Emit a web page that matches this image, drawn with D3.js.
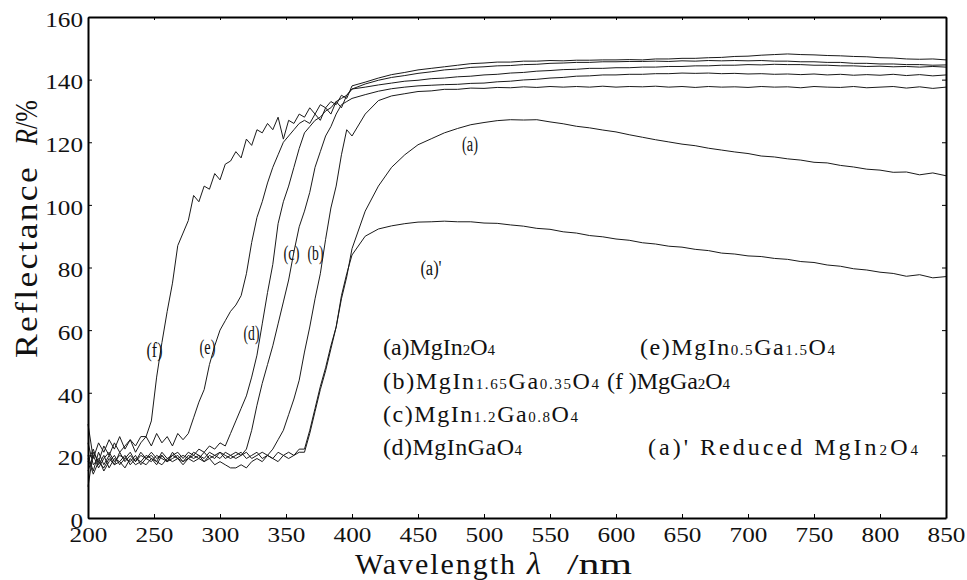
<!DOCTYPE html>
<html><head><meta charset="utf-8">
<script src="https://cdn.jsdelivr.net/npm/d3@7"></script>
<style>
body{margin:0;background:#fff}
svg{display:block}
svg text{font-family:"Liberation Serif","Times New Roman","DejaVu Serif",serif !important;fill:#111}
</style>
</head><body>
<svg id="chart" width="967" height="580"></svg>
<script>
// ---------------- DATA ----------------
const wavelengthNoisy = [200,204,208,212,216,220,224,228,232,236,
  240,244,248,252,256,260,264,268,272,276,
  280,284,288,292,296,300,304,308,312,316,
  320,324,328,332,336,340,344,348,352,356,
  360,364,368,372,376,380,384,388,392,396,400];
const wavelengthSmooth = [410,420,430,440,450,460,470,480,490,500,
  510,520,530,540,550,560,570,580,590,600,
  610,620,630,640,650,660,670,680,690,700,
  710,720,730,740,750,760,770,780,790,800,
  810,820,830,840,850];

const reflA_noisy = [15,20,16,19,21,18,20,19,21,18, 20,19,21,19,20,18,21,19,20,19, 21,20,19,21,20,19,21,20,19,20, 21,19,20,21,20,19,21,20,21,20, 22,22,28,35,42,48,55,61,70,77, 86];
const reflA_smooth = [98,106,112,116,119.2,121.1,123,124.4,125.6,126.3, 126.9,127.2,127.1,127.2,126.5,125.9,125.1,124.6,123.9,123.3, 122.4,121.6,120.8,120.1,119.4,118.9,118.1,117.5,116.9,116.4, 115.6,115.3,114.7,114.3,113.6,113.4,112.6,112.1,111.4,111.1, 110.4,110.5,109.6,110.2,109.3];

const reflAr_noisy = [19,14,18,16,19,17,18,16,19,17, 18,17,19,18,17,19,18,19,17,19, 18,19,18,19,17,18,17,16,16,17, 16,18,19,18,20,19,18,20,19,20, 21,21,27,34,41,47,54,61,71,78, 84];
const reflAr_smooth = [90,92.3,93.3,94,94.5,94.6,94.8,94.6,94.6,94.2, 94.1,93.6,93.2,92.5,92.2,91.4,91,90.2,89.8,89.1, 88.7,87.9,87.5,86.8,86.5,85.8,85.4,84.6,84.3,83.7, 83.5,82.9,82.6,81.9,81.6,80.8,80.4,79.6,79.2,78.5, 78.1,77.2,77.7,76.7,77.1];

const reflB_noisy = [24,17,19,15,18,20,17,19,18,20, 17,19,18,20,19,18,20,19,18,20, 19,20,18,20,19,21,20,19,20,21, 19,20,21,19,20,22,25,28,33,38, 44,53,61,70,78,89,99,106,116,124, 122];
const reflB_smooth = [129,133.3,134.8,135.5,136.2,136.4,136.9,136.9,137.3,137.2, 137.5,137.4,137.7,137.5,137.8,137.6,137.8,137.6,137.9,137.6, 137.8,137.7,137.9,137.6,137.8,137.5,137.8,137.6,137.7,137.5, 137.8,137.6,137.7,137.4,137.8,137.6,137.5,137.8,137.4,137.6, 137.8,137.3,137.7,137.2,137.6];

const reflC_noisy = [18,22,17,20,16,19,18,20,17,19, 18,20,19,17,20,18,19,20,18,19, 20,19,21,19,20,21,19,20,21,20, 22,28,36,43,49,55,62,69,76,85, 93,98,104,112,117,122,125,129,132,133, 134];
const reflC_smooth = [135.2,136.3,137.1,137.6,138,138.2,138.4,138.5,138.8,138.9, 139.3,139.5,139.9,140.1,140.5,140.7,141.1,141.2,141.5,141.5, 141.7,141.7,141.9,141.9,142.1,142,142.1,141.9,142,141.8, 141.9,141.7,141.8,141.6,141.8,141.5,141.7,141.4,141.6,141.4, 141.7,141.3,141.6,141.2,141.5];

const reflD_noisy = [20,15,21,17,20,17,21,18,20,18, 21,19,20,18,21,19,20,21,19,21, 20,22,21,23,22,24,23,27,31,35, 39,45,52,62,72,81,94,101,106,112, 118,123,125,127,128,130,131,133,134,135, 137];
const reflD_smooth = [137.6,138.3,138.9,139.5,139.8,140.3,140.5,140.9,141.1,141.5, 141.7,142.1,142.3,142.7,142.9,143.2,143.3,143.6,143.6,143.8, 143.8,144,144,144.2,144.2,144.4,144.4,144.6,144.6,144.8, 144.7,144.9,144.8,144.8,144.6,144.6,144.4,144.4,144.2,144.3, 144.1,144.2,144,144.2,144];

const reflE_noisy = [10,21,18,23,20,24,21,23,25,21, 24,26,23,27,24,26,23,27,25,27, 32,37,41,49,55,60,63,66,68,71, 78,88,96,101,107,112,116,120,122,124, 126,127,126,129,127,131,129,133,131,135, 137];
const reflE_smooth = [138.6,139.8,140.7,141.3,142,142.5,143.1,143.4,143.9,144.1, 144.4,144.5,144.8,144.9,145.2,145.3,145.5,145.5,145.7,145.7, 145.8,145.8,145.9,145.8,146,145.9,146.1,146,146.1,146, 146.1,145.9,145.9,145.7,145.7,145.5,145.5,145.2,145.2,145, 145,144.8,144.8,144.6,144.7];

const reflF_noisy = [30,19,24,21,25,22,26,22,25,23, 26,26,31,45,56,66,75,87,91,95, 103,101,106,105,110,108,113,114,117,115, 121,119,124,123,126,124,128,121,127,126, 129,128,131,129,132,131,133,132,135,134, 138];
const reflF_smooth = [139.2,140.5,141.6,142.3,143.1,143.6,144.1,144.6,145.1,145.3, 145.6,145.6,145.9,145.9,146.1,146,146.2,146.2,146.3,146.3, 146.4,146.3,146.6,146.6,146.8,146.8,147,147.1,147.4,147.5, 147.8,148,148.2,148,147.9,147.7,147.6,147.4,147.3,147, 146.9,146.6,146.5,146.6,146.3];

const seriesKeys = ["(a)","(a)'","(b)","(c)","(d)","(e)","(f)"];
const seriesNoisy = [reflA_noisy, reflAr_noisy, reflB_noisy, reflC_noisy, reflD_noisy, reflE_noisy, reflF_noisy];
const seriesSmooth = [reflA_smooth, reflAr_smooth, reflB_smooth, reflC_smooth, reflD_smooth, reflE_smooth, reflF_smooth];

const xTicks = [200,250,300,350,400,450,500,550,600,650,700,750,800,850];
const yTicks = [0,20,40,60,80,100,120,140,160];

// legend text pieces: [text, isSubscript]
const legendA  = [["(a)MgIn",0],["2",1],["O",0],["4",1]];
const legendB  = [["(b)MgIn",0],["1.65",1],["Ga",0],["0.35",1],["O",0],["4",1]];
const legendC  = [["(c)MgIn",0],["1.2",1],["Ga",0],["0.8",1],["O",0],["4",1]];
const legendD  = [["(d)MgInGaO",0],["4",1]];
const legendE  = [["(e)MgIn",0],["0.5",1],["Ga",0],["1.5",1],["O",0],["4",1]];
const legendF  = [["(f )MgGa",0],["2",1],["O",0],["4",1]];
const legendAr = [["(a)' Reduced MgIn",0],["2",1],["O",0],["4",1]];

// ---------------- LAYOUT ----------------
const FONT = '"Liberation Serif","Times New Roman","DejaVu Serif",serif';
const svg = d3.select("#chart");
const L = 88, R = 946, T = 17, B = 518;
const x = d3.scaleLinear().domain([200, 850]).range([L, R]);
const y = d3.scaleLinear().domain([0, 160]).range([B, T]);

function spaceTo(sel, target){
  const node = sel.node();
  const n = node.textContent.length;
  const w = node.getComputedTextLength();
  if (n > 1) sel.attr("letter-spacing", ((target - w) / (n - 1)).toFixed(2));
}

// curves
const line = d3.line().x(d => x(d[0])).y(d => y(d[1]));
seriesKeys.forEach((k, i) => {
  const pts = wavelengthNoisy.map((w, j) => [w, seriesNoisy[i][j]])
    .concat(wavelengthSmooth.map((w, j) => [w, seriesSmooth[i][j]]));
  svg.append("path").datum(pts)
    .attr("d", line).attr("fill", "none")
    .attr("stroke", "#1a1a1a").attr("stroke-width", 1)
    .attr("stroke-linejoin", "round");
});

// axes
const axB = svg.append("g").attr("transform", `translate(0,${B})`)
  .call(d3.axisBottom(x).tickValues(xTicks).tickSizeInner(-4).tickSizeOuter(0).tickPadding(8).tickFormat(d3.format("d")));
const axL = svg.append("g").attr("transform", `translate(${L},0)`)
  .call(d3.axisLeft(y).tickValues(yTicks).tickSizeInner(-4).tickSizeOuter(0).tickPadding(5).tickFormat(d3.format("d")));
const axT = svg.append("g").attr("transform", `translate(0,${T})`)
  .call(d3.axisTop(x).tickValues(xTicks).tickSizeInner(-3).tickSizeOuter(0).tickFormat(""));
const axR = svg.append("g").attr("transform", `translate(${R},0)`)
  .call(d3.axisRight(y).tickValues(yTicks).tickSizeInner(-4).tickSizeOuter(0).tickFormat(""));
[axB, axL, axT, axR].forEach(g => {
  g.attr("font-family", FONT);
  g.select(".domain").attr("stroke", "#000").attr("stroke-width", 2);
  g.selectAll(".tick line").attr("stroke", "#000").attr("stroke-width", 1);
});
[axB, axL].forEach(g => {
  g.selectAll(".tick text").attr("font-size", 22).attr("fill", "#111")
    .attr("font-family", FONT)
    .each(function(){ d3.select(this).attr("textLength", this.textContent.length * 12.6).attr("lengthAdjust", "spacingAndGlyphs"); });
});
axB.selectAll(".tick text").attr("dy", "0.71em");
axL.selectAll(".tick text").attr("dy", "0.42em");

// axis titles (y: rotated)
const yt1 = svg.append("text").attr("transform", "translate(37,358) rotate(-90)")
  .attr("font-family", FONT).attr("font-size", 32).attr("letter-spacing", 2).text("Reflectance");
{ const w = yt1.node().getComputedTextLength();
  yt1.attr("transform", `translate(37,358) rotate(-90) scale(${(193 / w).toFixed(3)},1)`); }
const yt2 = svg.append("text").attr("transform", "translate(37,145) rotate(-90)")
  .attr("font-family", FONT).attr("font-size", 31);
yt2.append("tspan").attr("font-style", "italic").text("R");
yt2.append("tspan").text("/%");
{ const w = yt2.node().getComputedTextLength();
  yt2.attr("transform", `translate(37,145) rotate(-90) scale(${(45 / w).toFixed(3)},1)`); }

const xt1 = svg.append("text").attr("x", 355).attr("y", 574).attr("font-family", FONT).attr("font-size", 30).text("Wavelength");
spaceTo(xt1, 160);
svg.append("text").attr("x", 527).attr("y", 574).attr("font-family", FONT).attr("font-size", 32).attr("font-style", "italic").text("λ");
const xt3 = svg.append("text").attr("transform", "translate(567,574)").attr("font-family", FONT).attr("font-size", 30).text("/nm");
{ const w = xt3.node().getComputedTextLength();
  xt3.attr("transform", `translate(567,574) scale(${(65 / w).toFixed(3)},1)`); }

// curve labels
const curveLabelPos = [[470,151],[431,275],[315.5,260],[291.5,260],[251.5,340],[207.5,354],[154.5,357]];
seriesKeys.forEach((k, i) => {
  svg.append("text").attr("x", curveLabelPos[i][0]).attr("y", curveLabelPos[i][1])
    .attr("text-anchor", "middle").attr("font-family", FONT).attr("font-size", 20)
    .attr("textLength", k.length * 5.3).attr("lengthAdjust", "spacingAndGlyphs").text(k);
});

// legend
function legendRow(pieces, x0, yb, targetW){
  const t = svg.append("text").attr("x", x0).attr("y", yb).attr("font-family", FONT).attr("font-size", 24);
  pieces.forEach(p => {
    t.append("tspan").attr("font-size", p[1] ? 15 : 24).text(p[0]);
  });
  spaceTo(t, targetW);
}
legendRow(legendA, 383, 355, 112);
legendRow(legendB, 383, 389, 216);
legendRow(legendC, 383, 422, 195);
legendRow(legendD, 383, 455, 139);
legendRow(legendE, 640, 355, 195);
legendRow(legendF, 607, 389, 123);
legendRow(legendAr, 648, 455, 270);
</script>
</body></html>
